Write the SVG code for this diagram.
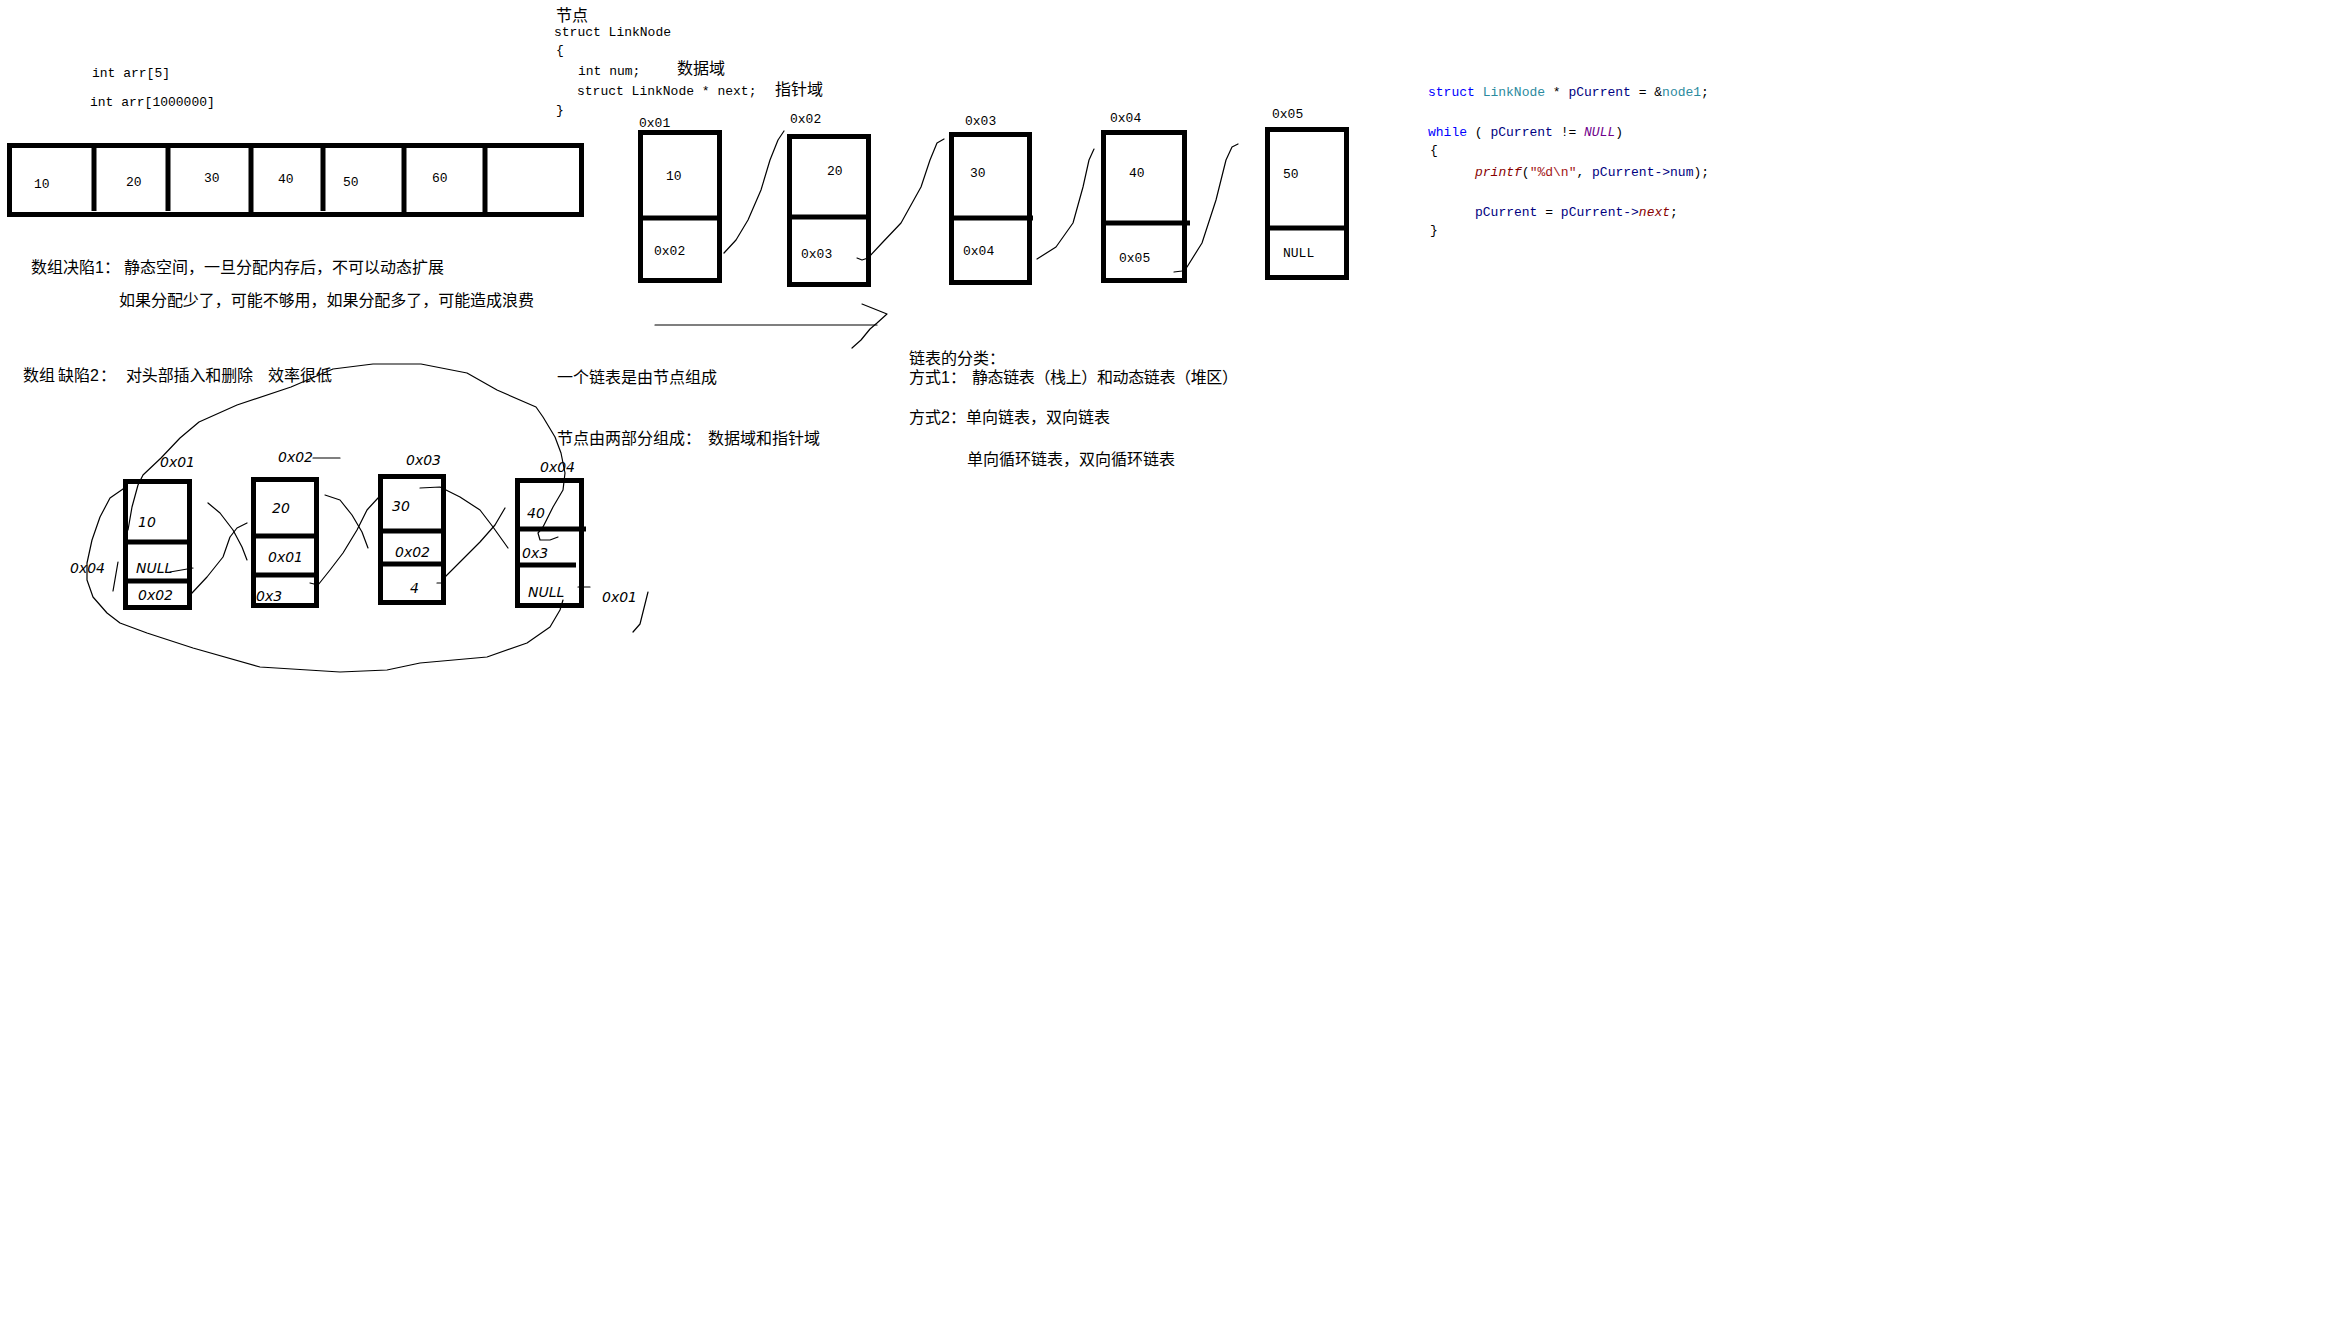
<svg xmlns="http://www.w3.org/2000/svg" width="2336" height="1324" viewBox="0 0 2336 1324">
  <style>
    .mono { font-family: "Liberation Mono", "DejaVu Sans Mono", monospace; font-size: 13px; fill: #000; white-space: pre; }
    .cjk { font-family: "Liberation Sans", "Noto Sans CJK SC", sans-serif; font-size: 16px; fill: #000; white-space: pre; }
    .hand { font-family: "DejaVu Sans", sans-serif; font-size: 14px; fill: #000; font-style: italic; font-weight: 300; }
    .box { fill: #fff; stroke: #000; stroke-width: 5; }
    .bar { stroke: #000; stroke-width: 5; fill: none; }
    .thin { stroke: #000; stroke-width: 1.2; fill: none; stroke-linejoin: round; stroke-linecap: round; }
    .kw { fill: #0000ff; }
    .ty { fill: #2b8a9e; }
    .id { fill: #000080; }
    .mac { fill: #6f008a; font-style: italic; }
    .fn { fill: #880000; font-style: italic; }
    .str { fill: #a31515; }
  </style>
  <rect width="2336" height="1324" fill="#fff"/>

  <!-- array declarations -->
  <g id="array-decl">
    <text class="mono" x="92" y="77">int arr[5]</text>
    <text class="mono" x="90" y="106">int arr[1000000]</text>
  </g>

  <!-- contiguous array of cells -->
  <g id="array">
    <rect x="9.5" y="145.5" width="572" height="69" fill="#fff" stroke="#000" stroke-width="5"/>
    <line class="bar" x1="94" y1="146" x2="94" y2="211" stroke-width="4"/>
    <line class="bar" x1="168" y1="146" x2="168" y2="211" stroke-width="4"/>
    <line class="bar" x1="251" y1="146" x2="251" y2="213" stroke-width="4"/>
    <line class="bar" x1="323" y1="146" x2="323" y2="211" stroke-width="4"/>
    <line class="bar" x1="404" y1="146" x2="404" y2="215" stroke-width="4"/>
    <line class="bar" x1="485" y1="146" x2="485" y2="215" stroke-width="4"/>
    <text class="mono" x="34" y="188">10</text>
    <text class="mono" x="126" y="186">20</text>
    <text class="mono" x="204" y="182">30</text>
    <text class="mono" x="278" y="183">40</text>
    <text class="mono" x="343" y="186">50</text>
    <text class="mono" x="432" y="182">60</text>
  </g>

  <!-- array drawbacks -->
  <g id="array-notes">
    <text class="cjk" x="31" y="273">数组决陷1：</text>
    <text class="cjk" x="124" y="273" textLength="320">静态空间，一旦分配内存后，不可以动态扩展</text>
    <text class="cjk" x="119" y="306" textLength="415">如果分配少了，可能不够用，如果分配多了，可能造成浪费</text>
    <text class="cjk" x="23" y="381">数组</text>
    <text class="cjk" x="58" y="381">缺陷2</text>
    <text class="cjk" x="100" y="381">：</text>
    <text class="cjk" x="126" y="381" textLength="127">对头部插入和删除</text>
    <text class="cjk" x="268" y="381">效率很低</text>
  </g>

  <!-- node struct definition -->
  <g id="struct-def">
    <text class="cjk" x="556" y="21">节点</text>
    <text class="mono" x="554" y="36">struct LinkNode</text>
    <text class="mono" x="556" y="54">{</text>
    <text class="mono" x="578" y="75">int num;</text>
    <text class="cjk" x="677" y="74">数据域</text>
    <text class="mono" x="577" y="95">struct LinkNode * next;</text>
    <text class="cjk" x="775" y="95">指针域</text>
    <text class="mono" x="556" y="114">}</text>
  </g>

  <!-- linked list nodes -->
  <g id="node1">
    <text class="mono" x="639" y="127">0x01</text>
    <rect class="box" x="640.5" y="132.5" width="79" height="148"/>
    <line class="bar" x1="640" y1="218" x2="720" y2="218"/>
    <text class="mono" x="666" y="180">10</text>
    <text class="mono" x="654" y="255">0x02</text>
  </g>
  <g id="node2">
    <text class="mono" x="790" y="123">0x02</text>
    <rect class="box" x="789.5" y="136.5" width="79" height="148"/>
    <line class="bar" x1="789" y1="217" x2="870" y2="217"/>
    <text class="mono" x="827" y="175">20</text>
    <text class="mono" x="801" y="258">0x03</text>
  </g>
  <g id="node3">
    <text class="mono" x="965" y="125">0x03</text>
    <rect class="box" x="951.5" y="134.5" width="78" height="148"/>
    <line class="bar" x1="951" y1="218" x2="1033" y2="218"/>
    <text class="mono" x="970" y="177">30</text>
    <text class="mono" x="963" y="255">0x04</text>
  </g>
  <g id="node4">
    <text class="mono" x="1110" y="122">0x04</text>
    <rect class="box" x="1103.5" y="132.5" width="81" height="148"/>
    <line class="bar" x1="1103" y1="223" x2="1190" y2="223"/>
    <text class="mono" x="1129" y="177">40</text>
    <text class="mono" x="1119" y="262">0x05</text>
  </g>
  <g id="node5">
    <text class="mono" x="1272" y="118">0x05</text>
    <rect class="box" x="1267.5" y="129.5" width="79" height="148"/>
    <line class="bar" x1="1267" y1="228" x2="1347" y2="228"/>
    <text class="mono" x="1283" y="178">50</text>
    <text class="mono" x="1283" y="257">NULL</text>
  </g>

  <!-- linked list notes -->
  <g id="list-notes">
    <text class="cjk" x="557" y="383">一个链表是由节点组成</text>
    <text class="cjk" x="557" y="444">节点由两部分组成：</text>
    <text class="cjk" x="708" y="444">数据域和指针域</text>
    <text class="cjk" x="909" y="364">链表的分类：</text>
    <text class="cjk" x="909" y="383">方式1：</text>
    <text class="cjk" x="972" y="383" textLength="266">静态链表（栈上）和动态链表（堆区）</text>
    <text class="cjk" x="909" y="423">方式2：单向链表，双向链表</text>
    <text class="cjk" x="967" y="465">单向循环链表，双向循环链表</text>
  </g>

  <!-- traversal code -->
  <g id="traverse-code">
    <text class="mono" x="1428" y="96"><tspan class="kw">struct</tspan> <tspan class="ty">LinkNode</tspan> * <tspan class="id">pCurrent</tspan> = &amp;<tspan class="ty">node1</tspan>;</text>
    <text class="mono" x="1428" y="136"><tspan class="kw">while</tspan> ( <tspan class="id">pCurrent</tspan> != <tspan class="mac">NULL</tspan>)</text>
    <text class="mono" x="1430" y="154">{</text>
    <text class="mono" x="1475" y="176"><tspan class="fn">printf</tspan>(<tspan class="str">"%d\n"</tspan>, <tspan class="id">pCurrent</tspan><tspan class="id">-&gt;num</tspan>);</text>
    <text class="mono" x="1475" y="216"><tspan class="id">pCurrent</tspan> = <tspan class="id">pCurrent</tspan><tspan class="id">-&gt;</tspan><tspan class="fn">next</tspan>;</text>
    <text class="mono" x="1430" y="234">}</text>
  </g>

  <!-- hand-drawn circular list sketch -->
  <g id="sketch-b1">
    <rect class="box" x="125.5" y="481.5" width="64" height="126"/>
    <line class="bar" x1="125" y1="542" x2="188" y2="542"/>
    <line class="bar" x1="125" y1="581" x2="190" y2="581"/>
    <text class="hand" x="160" y="467">0x01</text>
    <text class="hand" x="138" y="527" font-size="18">10</text>
    <text class="hand" x="136" y="573">NULL</text>
    <text class="hand" x="138" y="600" font-size="13">0x02</text>
    <text class="hand" x="70" y="573" font-size="15">0x04</text>
  </g>
  <g id="sketch-b2">
    <rect class="box" x="253.5" y="479.5" width="63" height="126"/>
    <line class="bar" x1="253" y1="536" x2="317" y2="536"/>
    <line class="bar" x1="253" y1="575" x2="317" y2="575"/>
    <text class="hand" x="278" y="462">0x02</text>
    <text class="hand" x="272" y="513">20</text>
    <text class="hand" x="268" y="562">0x01</text>
    <text class="hand" x="256" y="601">0x3</text>
  </g>
  <g id="sketch-b3">
    <rect class="box" x="380.5" y="476.5" width="63" height="126"/>
    <line class="bar" x1="380" y1="531" x2="446" y2="531"/>
    <line class="bar" x1="380" y1="564" x2="446" y2="564"/>
    <text class="hand" x="406" y="465" font-size="16">0x03</text>
    <text class="hand" x="392" y="511" font-size="20">30</text>
    <text class="hand" x="395" y="557">0x02</text>
    <text class="hand" x="410" y="593" font-size="20">4</text>
  </g>
  <g id="sketch-b4">
    <rect class="box" x="517.5" y="480.5" width="64" height="125"/>
    <line class="bar" x1="517" y1="529" x2="586" y2="529"/>
    <line class="bar" x1="517" y1="565" x2="576" y2="565"/>
    <text class="hand" x="540" y="472" font-size="13">0x04</text>
    <text class="hand" x="527" y="518" font-size="17">40</text>
    <text class="hand" x="522" y="558">0x3</text>
    <text class="hand" x="528" y="597">NULL</text>
    <text class="hand" x="602" y="602">0x01</text>
  </g>

  <g id="connectors">
    <!-- printed list links -->
    <polyline class="thin" points="724,253 736,240 748,220 761,190 770,160 778,140 784,131"/>
    <polyline class="thin" points="857,258 862,260 868,258 882,243 901,223 921,187 930,160 937,143 944,139"/>
    <polyline class="thin" points="1037,259 1056,247 1073,223 1083,187 1089,160 1094,149"/>
    <polyline class="thin" points="1174,272 1182,271 1187,267 1202,243 1216,200 1226,160 1232,147 1238,144"/>

    <!-- array to list arrow -->
    <line class="thin" x1="655" y1="325" x2="877" y2="325"/>
    <polyline class="thin" points="862,304 887,314 877,323 870,329 861,340 852,348"/>

    <!-- sketch links -->
    <polyline class="thin" points="128,530 132,507 138,485 143,475 161,458 180,438 199,422 237,405 291,387 333,369 373,364 421,364 467,373 497,390 536,407 543,417 555,437 561,453 565,473 563,490 553,507 543,527 538,533 540,540 550,540 558,537"/>
    <polyline class="thin" points="563,600 560,610 550,627 527,643 487,657 420,663 387,670 340,672 260,667 193,648 147,633 120,623 107,613 93,597 87,580 87,563 92,540 100,517 110,498 123,489"/>
    <polyline class="thin" points="208,503 220,513 233,530 242,547 247,560"/>
    <polyline class="thin" points="192,593 207,577 223,557 230,537 237,528 247,523"/>
    <polyline class="thin" points="325,495 340,500 352,515 362,532 368,548"/>
    <polyline class="thin" points="310,583 318,585 330,570 343,553 357,530 367,510 378,498"/>
    <polyline class="thin" points="420,488 440,487 460,497 480,510 493,527 508,548"/>
    <polyline class="thin" points="445,577 460,562 480,542 495,525 505,508"/>
    <line class="thin" x1="170" y1="572" x2="193" y2="568"/>
    <line class="thin" x1="313" y1="458" x2="340" y2="458"/>
    <line class="thin" x1="437" y1="583" x2="445" y2="583"/>
    <line class="thin" x1="578" y1="587" x2="590" y2="587"/>
    <polyline class="thin" points="633,632 640,624 644,608 648,592"/>
    <line class="thin" x1="113" y1="591" x2="118" y2="562"/>
  </g>
</svg>
